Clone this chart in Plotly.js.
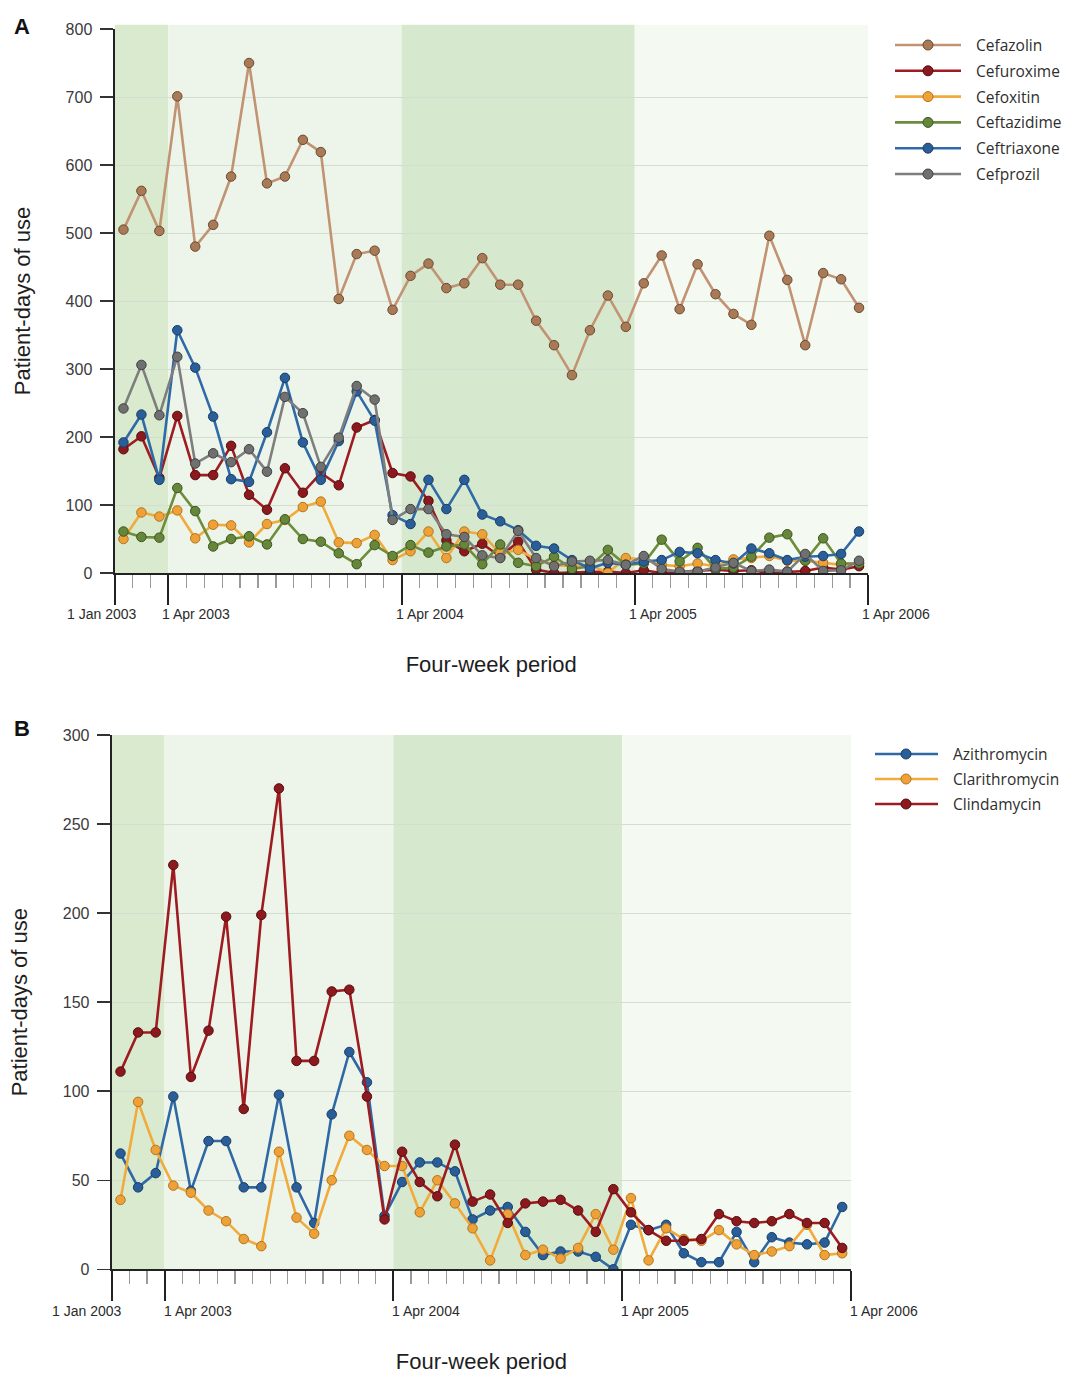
<!DOCTYPE html>
<html>
<head>
<meta charset="utf-8">
<script src="https://cdn.plot.ly/plotly-3.0.1.min.js"></script>
<style>
html,body{margin:0;padding:0;background:#ffffff;}
#chart{width:1067px;height:1376px;}
</style>
</head>
<body>
<div id="chart"></div>
<script>
// ---------- DATA ----------
// four-week periods, 1 Jan 2003 .. 1 Apr 2006
const periods = [1,2,3,4,5,6,7,8,9,10,11,12,13,14,15,16,17,18,19,20,21,22,23,24,25,26,27,28,29,30,31,32,33,34,35,36,37,38,39,40,41,42];
const tickPos = [0.5, 3.5, 16.5, 29.5, 42.5];
const tickLabels = ['1 Jan 2003', '1 Apr 2003', '1 Apr 2004', '1 Apr 2005', '1 Apr 2006'];

// Panel A – cephalosporins
const namesA = ['Cefazolin', 'Cefuroxime', 'Cefoxitin', 'Ceftazidime', 'Ceftriaxone', 'Cefprozil'];
const cefazolin   = [505,562,503,701,480,512,583,750,573,583,637,619,403,469,474,387,437,455,419,426,463,424,424,371,335,291,357,408,362,426,467,388,454,410,381,365,496,431,335,441,432,390];
const cefuroxime  = [182,201,140,231,144,144,187,115,93,154,118,147,129,214,225,147,142,106,48,32,43,24,46,5,0,1,1,2,0,4,0,2,3,5,3,4,0,2,3,8,5,10];
const cefoxitin   = [50,89,83,92,51,71,70,45,72,78,97,105,45,44,56,19,32,61,22,61,57,29,34,20,12,10,12,0,22,20,12,10,14,10,20,22,25,18,18,15,12,15];
const ceftazidime = [61,53,52,125,91,39,50,54,42,79,50,46,29,13,41,25,41,30,39,42,13,42,15,10,24,6,10,34,12,14,49,17,37,6,8,24,52,57,18,51,14,14];
const ceftriaxone = [192,233,137,357,302,230,138,134,207,287,192,137,194,267,224,85,72,137,94,137,86,76,63,40,36,19,7,15,12,17,19,31,29,19,14,36,29,19,24,25,28,61];
const cefprozil   = [242,306,232,318,161,176,163,182,149,259,235,156,199,275,255,78,94,94,57,53,26,22,62,22,10,17,18,19,12,25,6,2,2,8,15,3,5,2,28,3,4,18];

// Panel B – macrolides / lincosamide
const namesB = ['Azithromycin', 'Clarithromycin', 'Clindamycin'];
const azithromycin   = [65,46,54,97,44,72,72,46,46,98,46,26,87,122,105,30,49,60,60,55,28,33,35,21,8,10,10,7,0,25,22,25,9,4,4,21,4,18,15,14,15,35];
const clarithromycin = [39,94,67,47,43,33,27,17,13,66,29,20,50,75,67,58,58,32,50,37,23,5,31,8,11,6,12,31,11,40,5,23,17,16,22,14,8,10,13,25,8,9];
const clindamycin    = [111,133,133,227,108,134,198,90,199,270,117,117,156,157,97,28,66,49,41,70,38,42,26,37,38,39,33,21,45,32,22,16,16,17,31,27,26,27,31,26,26,12];

// ---------- STYLE ----------
const W = 1067, H = 1376;
const px = x => x / W;
const py = y => 1 - y / H;

const styleA = [
  {line:'#c19373', fill:'#a87a56', edge:'#6b4a33'},
  {line:'#9e1c21', fill:'#8c191d', edge:'#560d10'},
  {line:'#f1aa3c', fill:'#eea137', edge:'#b27420'},
  {line:'#6d8d3b', fill:'#66863a', edge:'#3d5522'},
  {line:'#2f6aa7', fill:'#2a5e98', edge:'#1a3d66'},
  {line:'#7e7e7e', fill:'#707070', edge:'#404040'}
];
const styleB = [
  {line:'#2f69a5', fill:'#2a5e98', edge:'#1a3d66'},
  {line:'#f1aa3c', fill:'#eea137', edge:'#b27420'},
  {line:'#9e1c21', fill:'#8c191d', edge:'#560d10'}
];
const seriesA = [cefazolin, cefuroxime, cefoxitin, ceftazidime, ceftriaxone, cefprozil];
const seriesB = [azithromycin, clarithromycin, clindamycin];

const traces = [];
function addTraces(series, names, styles, xa, ya) {
  series.forEach((vals, k) => {
    traces.push({
      type: 'scatter', mode: 'lines+markers',
      x: periods, y: vals, name: names[k],
      xaxis: xa, yaxis: ya, showlegend: false,
      line: {color: styles[k].line, width: 2.6},
      marker: {size: 9.5, color: styles[k].fill, line: {color: styles[k].edge, width: 1}},
      hoverinfo: 'skip'
    });
  });
}
addTraces(seriesA, namesA, styleA, 'x', 'y');
addTraces(seriesB, namesB, styleB, 'x2', 'y2');

// ---------- LAYOUT ----------
const bandDark = '#d9eace';
const bandDark2 = '#d6e9cf';
const bandLight = '#edf5ea';
const bandLighter = '#f4f9f2';
const bandColors = [bandDark, bandLight, bandDark2, bandLighter];

const shapes = [];
const annotations = [];

function bands(xref, yref, top) {
  for (let b = 0; b < 4; b++) {
    shapes.push({type:'rect', xref: xref, yref: yref + ' domain',
      x0: tickPos[b], x1: tickPos[b+1], y0: 0, y1: top,
      fillcolor: bandColors[b], line: {width: 0}, layer: 'below'});
  }
}
bands('x', 'y', 1.008);
bands('x2', 'y2', 1.0);

// x tick labels as annotations (left-aligned near tick, first one shifted left)
function xLabels(xref, yPix, aprShift, janShift) {
  tickLabels.forEach((t, k) => {
    annotations.push({xref: xref, yref: 'paper', x: tickPos[k], y: py(yPix),
      text: t, showarrow: false, xanchor: k === 0 ? 'center' : 'left', yanchor: 'middle',
      xshift: k === 0 ? janShift : aprShift,
      font: {family: 'Liberation Sans, Arial, sans-serif', size: 14, color: '#2b2b2b'}});
  });
}
xLabels('x', 614, -8, -13);
xLabels('x2', 1311, -3, -25);

// manual legends
function legend(names, styles, lx0, lx1, mx, tx, y0, dy) {
  names.forEach((n, k) => {
    const y = y0 + k * dy;
    shapes.push({type:'line', xref:'paper', yref:'paper', x0: px(lx0), x1: px(lx1), y0: py(y), y1: py(y),
      line: {color: styles[k].line, width: 2.6}});
    shapes.push({type:'circle', xref:'paper', yref:'paper', x0: px(mx-5), x1: px(mx+5), y0: py(y+5), y1: py(y-5),
      fillcolor: styles[k].fill, line: {color: styles[k].edge, width: 1}});
    annotations.push({xref:'paper', yref:'paper', x: px(tx), y: py(y), text: n, showarrow:false,
      xanchor:'left', yanchor:'middle',
      font: {family: 'Open Sans, Noto Sans, sans-serif', size: 15.5, color: '#2e2e2e'}});
  });
}
legend(namesA, styleA, 895, 961, 928, 974, 45, 25.8);
legend(namesB, styleB, 875, 938, 906, 951, 754, 25);

// panel letters
annotations.push({xref:'paper', yref:'paper', x: px(22), y: py(27), text:'<b>A</b>', showarrow:false,
  xanchor:'center', yanchor:'middle', font:{family:'Liberation Sans, Arial, sans-serif', size:22, color:'#111'}});
annotations.push({xref:'paper', yref:'paper', x: px(22), y: py(728), text:'<b>B</b>', showarrow:false,
  xanchor:'center', yanchor:'middle', font:{family:'Liberation Sans, Arial, sans-serif', size:22, color:'#111'}});

const tickFont = {family: 'Liberation Sans, Arial, sans-serif', size: 16, color: '#3a3a3a'};
const titleFont = {family: 'Liberation Sans, Arial, sans-serif', size: 22, color: '#1e1e1e'};

function xAxis(domain, anchor) {
  return {
    domain: domain, anchor: anchor, range: [0.5, 42.5],
    tickmode: 'array', tickvals: tickPos, showticklabels: false,
    ticks: 'outside', ticklen: 30, tickwidth: 2, tickcolor: '#222',
    showline: true, linecolor: '#222', linewidth: 2,
    showgrid: false, zeroline: false,
    minor: {tickmode: 'linear', tick0: 0.5, dtick: 1, ticks: 'outside', ticklen: 13, tickwidth: 1.2, tickcolor: '#9a9a9a', showgrid: false},
    title: {text: 'Four-week period', font: titleFont, standoff: 53}
  };
}
function yAxis(domain, anchor, range, dtick) {
  return {
    domain: domain, anchor: anchor, range: range, tickmode: 'linear', tick0: 0, dtick: dtick,
    ticks: 'outside', ticklen: 13, tickwidth: 1.5, tickcolor: '#333',
    showline: true, linecolor: '#222', linewidth: 2,
    showgrid: true, gridcolor: '#d3ddd0', gridwidth: 1, zeroline: false,
    tickfont: tickFont, ticklabelstandoff: 4,
    title: {text: 'Patient-days of use', font: titleFont, standoff: 29}
  };
}

const layout = {
  width: W, height: H,
  margin: {l: 0, r: 0, t: 0, b: 0},
  paper_bgcolor: '#ffffff', plot_bgcolor: 'rgba(0,0,0,0)',
  showlegend: false,
  xaxis: xAxis([px(114.5), px(868)], 'y'),
  yaxis: yAxis([py(573), py(29)], 'x', [0, 800], 100),
  xaxis2: xAxis([px(111.7), px(851)], 'y2'),
  yaxis2: yAxis([py(1269.3), py(735)], 'x2', [0, 300], 50),
  shapes: shapes,
  annotations: annotations
};

Plotly.newPlot('chart', traces, layout, {displayModeBar: false, staticPlot: true});
</script>
</body>
</html>
